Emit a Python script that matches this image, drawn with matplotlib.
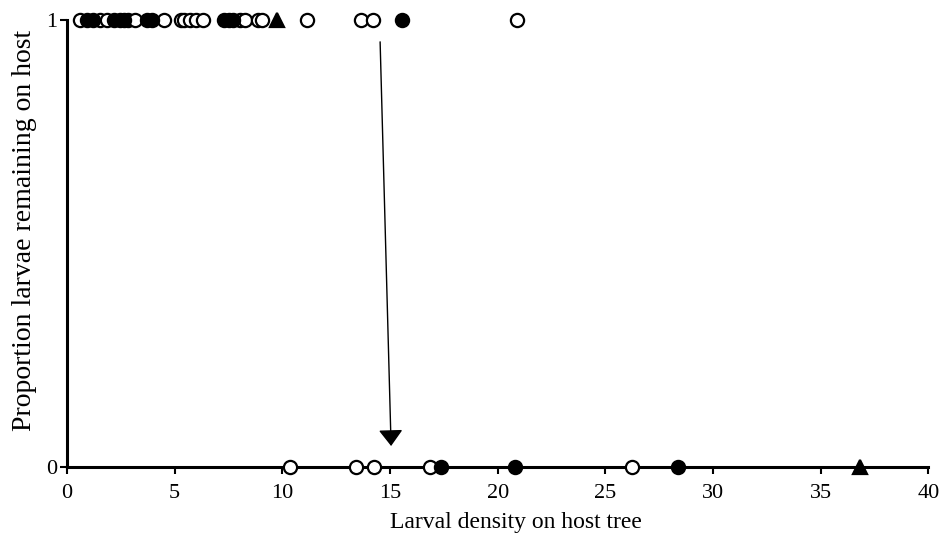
import matplotlib; matplotlib.use("Agg")
import matplotlib.pyplot as plt

# larvae remaining (y=1)
stay_open = [0.6, 1.53, 1.86, 2.83, 3.16, 4.51, 5.3, 5.44, 5.71, 5.99, 6.32,
             8.04, 8.27, 8.87, 9.06, 11.15, 13.66, 14.22, 20.91]
stay_filled = [0.93, 1.2, 2.18, 2.46, 2.65, 3.72, 3.95, 7.29, 7.53, 7.71, 15.56]
stay_tri = [9.76]
# larvae left host (y=0)
left_open = [10.36, 13.42, 14.26, 16.86, 26.25]
left_filled = [17.38, 20.81, 28.39]
left_tri = [36.84]
arrow_from = (14.54, 0.951)
arrow_to = (15.05, 0.047)

plt.rcParams["font.family"] = ["Liberation Serif", "DejaVu Serif"]
fig = plt.figure(figsize=(9.42, 5.39), dpi=100)
ax = fig.add_axes([0.0711, 0.1336, 0.9145, 0.8294])

ms = 9.5; mew = 1.6
def pts(xs, y, **kw):
    ax.plot(xs, [y]*len(xs), ls="none", clip_on=False, zorder=5, **kw)

pts(stay_open, 1, marker="o", ms=ms, mfc="white", mec="black", mew=mew)
pts(stay_filled, 1, marker="o", ms=ms, mfc="black", mec="black", mew=mew)
pts(stay_tri, 1, marker="^", ms=ms, mfc="black", mec="black", mew=mew)
pts(left_open, 0, marker="o", ms=ms, mfc="white", mec="black", mew=mew)
pts(left_filled, 0, marker="o", ms=ms, mfc="black", mec="black", mew=mew)
pts(left_tri, 0, marker="^", ms=ms, mfc="black", mec="black", mew=mew)

ax.annotate("", xy=arrow_to, xytext=arrow_from,
            arrowprops=dict(arrowstyle="-|>,head_length=1.0,head_width=0.75",
                            color="black", lw=1.0, shrinkA=0, shrinkB=0))

ax.set_xlim(0, 40); ax.set_ylim(0, 1)
ax.set_xticks(range(0, 41, 5)); ax.set_yticks([0, 1])
for s in ["top", "right"]:
    ax.spines[s].set_visible(False)
for s in ["left", "bottom"]:
    ax.spines[s].set_linewidth(2.2)
ax.tick_params(axis="x", direction="out", length=5, width=1.5, labelsize=16, pad=7)
ax.tick_params(axis="y", direction="out", length=5, width=1.5, labelsize=16, pad=2)
ax.set_xlabel("Larval density on host tree", fontsize=17)
ax.set_ylabel("Proportion larvae remaining on host", fontsize=20)
ax.xaxis.set_label_coords(0.5215, -0.10)
ax.yaxis.set_label_coords(-0.035, 0.53)
fig.savefig("out.png", dpi=100)
